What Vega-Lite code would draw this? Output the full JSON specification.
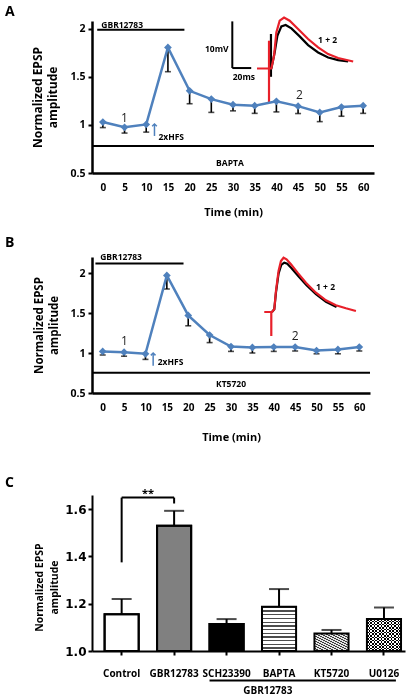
{
 "$schema":"https://vega.github.io/schema/vega-lite/v6.json",
 "padding":{"left":5,"top":5,"right":2,"bottom":2},
 "spacing":19,
 "config":{
  "font":"Open Sans",
  "view":{"stroke":null},
  "axis":{"domainColor":"black","tickColor":"black","labelColor":"black","titleColor":"black","grid":false,"labelFont":"Open Sans","titleFont":"Open Sans","labelFontWeight":"bold","titleFontWeight":"bold"},
  "title":{"font":"Open Sans","fontWeight":"bold","fontSize":14,"color":"black","anchor":"start","frame":"group"},
  "text":{"font":"Open Sans","color":"black"}
 },
 "datasets":{
  "a_series":[
   {"t":0,"mean":1.03,"lower":0.972},{"t":5,"mean":0.975,"lower":0.915},{"t":10,"mean":1.005,"lower":0.925},
   {"t":15,"mean":1.805,"lower":1.553},{"t":20,"mean":1.354,"lower":1.22},{"t":25,"mean":1.268,"lower":1.13},
   {"t":30,"mean":1.21,"lower":1.146},{"t":35,"mean":1.2,"lower":1.12},{"t":40,"mean":1.245,"lower":1.135},
   {"t":45,"mean":1.195,"lower":1.118},{"t":50,"mean":1.13,"lower":1.034},{"t":55,"mean":1.185,"lower":1.09},
   {"t":60,"mean":1.2,"lower":1.12}
  ],
  "a_rules":[
   {"t":-1.3,"t2":18.8,"v":1.99,"v2":1.99},
   {"t":-2.5,"t2":62.5,"v":0.78,"v2":0.78},
   {"t":29.84,"t2":29.84,"v":2.076,"v2":1.591},
   {"t":29.84,"t2":34.2,"v":1.591,"v2":1.591}
  ],
  "a_arrow":[{"t":11.9,"v":0.885,"v2":1.01}],
  "a_text":[
   {"t":4.45,"v":2.04,"label":"GBR12783"},
   {"t":15.76,"v":0.875,"label":"2xHFS"},
   {"t":26.26,"v":1.789,"label":"10mV"},
   {"t":32.5,"v":1.503,"label":"20ms"},
   {"t":51.8,"v":1.882,"label":"1 + 2"},
   {"t":29.3,"v":0.607,"label":"BAPTA"}
  ],
  "a_nums":[{"t":5.0,"v":1.073,"label":"1"},{"t":45.3,"v":1.3125,"label":"2"}],
  "a_traces":[
   {"trace":"1","seg":"a","i":0,"t":38.75,"v":1.945},
   {"trace":"1","seg":"a","i":1,"t":38.75,"v":1.5},
   {"trace":"1","seg":"b","i":0,"t":38.84,"v":1.586},
   {"trace":"1","seg":"b","i":1,"t":39.6,"v":1.753},
   {"trace":"1","seg":"b","i":2,"t":40.23,"v":1.927},
   {"trace":"1","seg":"b","i":3,"t":41.15,"v":2.024},
   {"trace":"1","seg":"b","i":4,"t":42.14,"v":2.039},
   {"trace":"1","seg":"b","i":5,"t":43.46,"v":2.003},
   {"trace":"1","seg":"b","i":6,"t":45.37,"v":1.92},
   {"trace":"1","seg":"b","i":7,"t":47.31,"v":1.83},
   {"trace":"1","seg":"b","i":8,"t":49.62,"v":1.753},
   {"trace":"1","seg":"b","i":9,"t":51.93,"v":1.701},
   {"trace":"1","seg":"b","i":10,"t":54.23,"v":1.674},
   {"trace":"1","seg":"b","i":11,"t":56.54,"v":1.659},
   {"trace":"2","seg":"a","i":0,"t":38.3,"v":1.875},
   {"trace":"2","seg":"a","i":1,"t":38.3,"v":1.232},
   {"trace":"2","seg":"b","i":0,"t":35.54,"v":1.586},
   {"trace":"2","seg":"b","i":1,"t":38.84,"v":1.586},
   {"trace":"2","seg":"b","i":2,"t":39.46,"v":1.719},
   {"trace":"2","seg":"b","i":3,"t":39.99,"v":1.961},
   {"trace":"2","seg":"b","i":4,"t":40.76,"v":2.083},
   {"trace":"2","seg":"b","i":5,"t":41.77,"v":2.115},
   {"trace":"2","seg":"b","i":6,"t":43.06,"v":2.083},
   {"trace":"2","seg":"b","i":7,"t":45.0,"v":1.997},
   {"trace":"2","seg":"b","i":8,"t":47.31,"v":1.893},
   {"trace":"2","seg":"b","i":9,"t":49.62,"v":1.805},
   {"trace":"2","seg":"b","i":10,"t":51.93,"v":1.736},
   {"trace":"2","seg":"b","i":11,"t":54.23,"v":1.695},
   {"trace":"2","seg":"b","i":12,"t":57.7,"v":1.659}
  ],
  "b_series":[
   {"t":0,"mean":1.02,"lower":0.975},{"t":5,"mean":1.01,"lower":0.96},{"t":10,"mean":0.99,"lower":0.92},
   {"t":15,"mean":1.97,"lower":1.8},{"t":20,"mean":1.47,"lower":1.34},{"t":25,"mean":1.225,"lower":1.13},
   {"t":30,"mean":1.08,"lower":1.02},{"t":35,"mean":1.07,"lower":1.0},{"t":40,"mean":1.075,"lower":1.02},
   {"t":45,"mean":1.075,"lower":1.025},{"t":50,"mean":1.03,"lower":0.99},{"t":55,"mean":1.045,"lower":0.99},
   {"t":60,"mean":1.075,"lower":1.025}
  ],
  "b_rules":[
   {"t":-1.7,"t2":18.9,"v":2.12,"v2":2.12},
   {"t":-2.5,"t2":62.5,"v":0.754,"v2":0.754}
  ],
  "b_arrow":[{"t":11.8,"v":0.84,"v2":1.0}],
  "b_text":[
   {"t":4.3,"v":2.2,"label":"GBR12783"},
   {"t":15.86,"v":0.8875,"label":"2xHFS"},
   {"t":30.0,"v":0.616,"label":"KT5720"},
   {"t":52.1,"v":1.825,"label":"1 + 2"}
  ],
  "b_nums":[{"t":5.07,"v":1.15,"label":"1"},{"t":45.0,"v":1.2125,"label":"2"}],
  "b_traces":[
   {"trace":"1","seg":"b","i":0,"t":39.58,"v":1.5125},
   {"trace":"1","seg":"b","i":1,"t":40.12,"v":1.546},
   {"trace":"1","seg":"b","i":2,"t":40.51,"v":1.754},
   {"trace":"1","seg":"b","i":3,"t":41.12,"v":1.991},
   {"trace":"1","seg":"b","i":4,"t":41.75,"v":2.1},
   {"trace":"1","seg":"b","i":5,"t":42.45,"v":2.129},
   {"trace":"1","seg":"b","i":6,"t":43.15,"v":2.116},
   {"trace":"1","seg":"b","i":7,"t":44.16,"v":2.059},
   {"trace":"1","seg":"b","i":8,"t":45.72,"v":1.9625},
   {"trace":"1","seg":"b","i":9,"t":47.66,"v":1.846},
   {"trace":"1","seg":"b","i":10,"t":49.86,"v":1.734},
   {"trace":"1","seg":"b","i":11,"t":52.2,"v":1.641},
   {"trace":"1","seg":"b","i":12,"t":54.67,"v":1.575},
   {"trace":"2","seg":"a","i":0,"t":39.42,"v":1.5125},
   {"trace":"2","seg":"a","i":1,"t":39.42,"v":1.2125},
   {"trace":"2","seg":"b","i":0,"t":37.78,"v":1.5125},
   {"trace":"2","seg":"b","i":1,"t":39.58,"v":1.5125},
   {"trace":"2","seg":"b","i":2,"t":40.12,"v":1.546},
   {"trace":"2","seg":"b","i":3,"t":40.51,"v":1.775},
   {"trace":"2","seg":"b","i":4,"t":41.12,"v":2.025},
   {"trace":"2","seg":"b","i":5,"t":41.68,"v":2.15},
   {"trace":"2","seg":"b","i":6,"t":42.29,"v":2.191},
   {"trace":"2","seg":"b","i":7,"t":42.99,"v":2.171},
   {"trace":"2","seg":"b","i":8,"t":44.02,"v":2.109},
   {"trace":"2","seg":"b","i":9,"t":45.56,"v":2.004},
   {"trace":"2","seg":"b","i":10,"t":47.52,"v":1.879},
   {"trace":"2","seg":"b","i":11,"t":49.86,"v":1.754},
   {"trace":"2","seg":"b","i":12,"t":52.2,"v":1.659},
   {"trace":"2","seg":"b","i":13,"t":54.53,"v":1.596},
   {"trace":"2","seg":"b","i":14,"t":56.87,"v":1.559},
   {"trace":"2","seg":"b","i":15,"t":59.21,"v":1.525}
  ],
  "c_bars":[
   {"g":"Control","mean":1.156,"upper":1.22},
   {"g":"GBR12783","mean":1.53,"upper":1.593},
   {"g":"SCH23390","mean":1.114,"upper":1.135},
   {"g":"BAPTA","mean":1.187,"upper":1.262},
   {"g":"KT5720","mean":1.074,"upper":1.089},
   {"g":"U0126","mean":1.135,"upper":1.184}
  ],
  "c_bracket":[
   {"g":"Control","g2":"Control","y":1.375,"y2":1.649},
   {"g":"Control","g2":"GBR12783","y":1.649,"y2":1.649},
   {"g":"GBR12783","g2":"GBR12783","y":1.649,"y2":1.624}
  ],
  "c_group":[{"g":"SCH23390","g2":"U0126","y":0.875}],
  "c_star":[{"g":"Control","y":1.665,"label":"**"}],
  "c_grouplabel":[{"g":"BAPTA","y":0.832,"label":"GBR12783"}]
 },
 "vconcat":[
  {
   "title":{"text":"A","dx":-87,"offset":-6},
   "width":282,"height":152,
   "layer":[
    {"data":{"name":"a_rules"},"mark":{"type":"rule","strokeWidth":2,"color":"black"},
     "encoding":{
      "x":{"field":"t","type":"quantitative","scale":{"domain":[-2.5,62.5],"nice":false,"zero":false},
           "axis":{"values":[0,5,10,15,20,25,30,35,40,45,50,55,60],"tickCount":20,"labelOverlap":false,"labelSeparation":0,"ticks":false,"labelPadding":9,"labelFontSize":10,"title":"Time (min)","titleFontSize":11,"titlePadding":14,"domainWidth":2.5}},
      "x2":{"field":"t2"},
      "y":{"field":"v","type":"quantitative","scale":{"domain":[0.5,2.08],"nice":false,"zero":false},
           "axis":{"values":[0.5,1,1.5,2],"tickCount":10,"format":"~g","tickSize":4,"tickWidth":2,"labelPadding":3,"labelFontSize":10.5,"title":["Normalized EPSP","amplitude"],"titleFontSize":12,"titleLineHeight":15,"titlePadding":10,"domainWidth":2.5}},
      "y2":{"field":"v2"}}},
    {"data":{"name":"a_traces"},"transform":[{"filter":"datum.trace == '1'"}],
     "mark":{"type":"line","color":"black","strokeWidth":2.2},
     "encoding":{
      "x":{"field":"t","type":"quantitative"},
      "y":{"field":"v","type":"quantitative"},
      "detail":{"field":"seg"},"order":{"field":"i"}}},
    {"data":{"name":"a_traces"},"transform":[{"filter":"datum.trace == '2'"}],
     "mark":{"type":"line","color":"#e8202a","strokeWidth":2.2},
     "encoding":{
      "x":{"field":"t","type":"quantitative"},
      "y":{"field":"v","type":"quantitative"},
      "detail":{"field":"seg"},"order":{"field":"i"}}},
    {"data":{"name":"a_series"},"mark":{"type":"rule","color":"black","strokeWidth":1.6},
     "encoding":{
      "x":{"field":"t","type":"quantitative"},
      "y":{"field":"mean","type":"quantitative"},
      "y2":{"field":"lower"}}},
    {"data":{"name":"a_series"},"mark":{"type":"tick","color":"black","orient":"horizontal","size":6,"thickness":1.6},
     "encoding":{
      "x":{"field":"t","type":"quantitative"},
      "y":{"field":"lower","type":"quantitative"}}},
    {"data":{"name":"a_series"},"mark":{"type":"line","color":"#4F81BD","strokeWidth":2.5,"point":{"filled":true,"shape":"diamond","size":60,"color":"#4F81BD"}},
     "encoding":{
      "x":{"field":"t","type":"quantitative"},
      "y":{"field":"mean","type":"quantitative"}}},
    {"data":{"name":"a_arrow"},"mark":{"type":"rule","color":"#4F81BD","strokeWidth":1.5},
     "encoding":{
      "x":{"field":"t","type":"quantitative"},
      "y":{"field":"v","type":"quantitative"},
      "y2":{"field":"v2"}}},
    {"data":{"name":"a_arrow"},"mark":{"type":"point","shape":"M-1,1L0,0L1,1","filled":false,"size":22,"color":"#4F81BD","strokeWidth":1.5,"opacity":1},
     "encoding":{
      "x":{"field":"t","type":"quantitative"},
      "y":{"field":"v2","type":"quantitative"}}},
    {"data":{"name":"a_text"},"mark":{"type":"text","fontSize":8.5,"fontWeight":"bold","align":"center","baseline":"middle"},
     "encoding":{
      "x":{"field":"t","type":"quantitative"},
      "y":{"field":"v","type":"quantitative"},
      "text":{"field":"label"}}},
    {"data":{"name":"a_nums"},"mark":{"type":"text","fontSize":12,"align":"center","baseline":"middle","color":"#222"},
     "encoding":{
      "x":{"field":"t","type":"quantitative"},
      "y":{"field":"v","type":"quantitative"},
      "text":{"field":"label"}}}
   ]
  },
  {
   "title":{"text":"B","dx":-87,"offset":3},
   "width":278,"height":136,
   "layer":[
    {"data":{"name":"b_rules"},"mark":{"type":"rule","strokeWidth":2,"color":"black"},
     "encoding":{
      "x":{"field":"t","type":"quantitative","scale":{"domain":[-2.5,62.5],"nice":false,"zero":false},
           "axis":{"values":[0,5,10,15,20,25,30,35,40,45,50,55,60],"tickCount":20,"labelOverlap":false,"labelSeparation":0,"ticks":false,"labelPadding":9,"labelFontSize":10,"title":["Time (min)"," "],"titleLineHeight":14,"titleFontSize":11,"titlePadding":19,"domainWidth":2.5}},
      "x2":{"field":"t2"},
      "y":{"field":"v","type":"quantitative","scale":{"domain":[0.5,2.2],"nice":false,"zero":false},
           "axis":{"values":[0.5,1,1.5,2],"tickCount":10,"format":"~g","tickSize":4,"tickWidth":2,"labelPadding":3,"labelFontSize":10.5,"title":["Normalized EPSP","amplitude"],"titleFontSize":11.5,"titleLineHeight":15,"titlePadding":10,"domainWidth":2.5}},
      "y2":{"field":"v2"}}},
    {"data":{"name":"b_traces"},"transform":[{"filter":"datum.trace == '1'"}],
     "mark":{"type":"line","color":"black","strokeWidth":2.2},
     "encoding":{
      "x":{"field":"t","type":"quantitative"},
      "y":{"field":"v","type":"quantitative"},
      "detail":{"field":"seg"},"order":{"field":"i"}}},
    {"data":{"name":"b_traces"},"transform":[{"filter":"datum.trace == '2'"}],
     "mark":{"type":"line","color":"#e8202a","strokeWidth":2.2},
     "encoding":{
      "x":{"field":"t","type":"quantitative"},
      "y":{"field":"v","type":"quantitative"},
      "detail":{"field":"seg"},"order":{"field":"i"}}},
    {"data":{"name":"b_series"},"mark":{"type":"rule","color":"black","strokeWidth":1.6},
     "encoding":{
      "x":{"field":"t","type":"quantitative"},
      "y":{"field":"mean","type":"quantitative"},
      "y2":{"field":"lower"}}},
    {"data":{"name":"b_series"},"mark":{"type":"tick","color":"black","orient":"horizontal","size":6,"thickness":1.6},
     "encoding":{
      "x":{"field":"t","type":"quantitative"},
      "y":{"field":"lower","type":"quantitative"}}},
    {"data":{"name":"b_series"},"mark":{"type":"line","color":"#4F81BD","strokeWidth":2.5,"point":{"filled":true,"shape":"diamond","size":60,"color":"#4F81BD"}},
     "encoding":{
      "x":{"field":"t","type":"quantitative"},
      "y":{"field":"mean","type":"quantitative"}}},
    {"data":{"name":"b_arrow"},"mark":{"type":"rule","color":"#4F81BD","strokeWidth":1.5},
     "encoding":{
      "x":{"field":"t","type":"quantitative"},
      "y":{"field":"v","type":"quantitative"},
      "y2":{"field":"v2"}}},
    {"data":{"name":"b_arrow"},"mark":{"type":"point","shape":"M-1,1L0,0L1,1","filled":false,"size":22,"color":"#4F81BD","strokeWidth":1.5,"opacity":1},
     "encoding":{
      "x":{"field":"t","type":"quantitative"},
      "y":{"field":"v2","type":"quantitative"}}},
    {"data":{"name":"b_text"},"mark":{"type":"text","fontSize":8.5,"fontWeight":"bold","align":"center","baseline":"middle"},
     "encoding":{
      "x":{"field":"t","type":"quantitative"},
      "y":{"field":"v","type":"quantitative"},
      "text":{"field":"label"}}},
    {"data":{"name":"b_nums"},"mark":{"type":"text","fontSize":12,"align":"center","baseline":"middle","color":"#222"},
     "encoding":{
      "x":{"field":"t","type":"quantitative"},
      "y":{"field":"v","type":"quantitative"},
      "text":{"field":"label"}}}
   ]
  },
  {
   "title":{"text":"C","dx":-87,"offset":-2},
   "width":313,"height":156,
   "layer":[
    {"data":{"name":"c_bars"},"mark":{"type":"rule","color":"black","strokeWidth":2},
     "encoding":{
      "x":{"field":"g","type":"nominal","scale":{"domain":["Control","GBR12783","SCH23390","BAPTA","KT5720","U0126"],"paddingInner":0.35,"paddingOuter":0.158,"align":0.76},
           "axis":{"title":null,"labelAngle":0,"tickSize":4,"tickWidth":2,"labelPadding":13,"labelFontSize":10,"domainWidth":2}},
      "y":{"field":"mean","type":"quantitative","scale":{"domain":[1,1.66],"nice":false,"zero":false},
           "axis":{"values":[1,1.2,1.4,1.6],"tickCount":10,"format":".1f","tickSize":4,"tickWidth":2,"labelPadding":2,"labelFont":"DejaVu Sans","labelFontSize":12,"labelFontWeight":"bold","title":["Normalized EPSP","amplitude"],"titleFontSize":10.5,"titleLineHeight":15,"titlePadding":5,"titleY":92,"domainWidth":2}},
      "y2":{"field":"upper"}}},
    {"data":{"name":"c_bars"},"mark":{"type":"tick","color":"black","size":20,"thickness":2},
     "encoding":{
      "x":{"field":"g","type":"nominal"},
      "y":{"field":"upper","type":"quantitative"}}},
    {"data":{"name":"c_bars"},"transform":[{"filter":"indexof(['Control','GBR12783','SCH23390'], datum.g) >= 0"}],
     "mark":{"type":"bar","stroke":"black","strokeWidth":2},
     "encoding":{
      "x":{"field":"g","type":"nominal"},
      "y":{"field":"mean","type":"quantitative"},
      "y2":{"datum":1},
      "color":{"field":"g","type":"nominal","scale":{"domain":["Control","GBR12783","SCH23390"],"range":["#ffffff","#808080","#000000"]},"legend":null}}},
    {"data":{"name":"c_bars"},"transform":[{"filter":"datum.g == 'BAPTA'"}],
     "mark":{"type":"bar","fill":{"gradient":"linear","x1":0,"y1":0,"x2":0,"y2":1,"stops":[
       {"offset":0,"color":"#4d4d4d"},{"offset":0.029,"color":"#4d4d4d"},{"offset":0.029,"color":"#ffffff"},{"offset":0.083,"color":"#ffffff"},
       {"offset":0.083,"color":"#4d4d4d"},{"offset":0.112,"color":"#4d4d4d"},{"offset":0.112,"color":"#ffffff"},{"offset":0.167,"color":"#ffffff"},
       {"offset":0.167,"color":"#4d4d4d"},{"offset":0.196,"color":"#4d4d4d"},{"offset":0.196,"color":"#ffffff"},{"offset":0.25,"color":"#ffffff"},
       {"offset":0.25,"color":"#4d4d4d"},{"offset":0.279,"color":"#4d4d4d"},{"offset":0.279,"color":"#ffffff"},{"offset":0.333,"color":"#ffffff"},
       {"offset":0.333,"color":"#4d4d4d"},{"offset":0.362,"color":"#4d4d4d"},{"offset":0.362,"color":"#ffffff"},{"offset":0.417,"color":"#ffffff"},
       {"offset":0.417,"color":"#4d4d4d"},{"offset":0.446,"color":"#4d4d4d"},{"offset":0.446,"color":"#ffffff"},{"offset":0.5,"color":"#ffffff"},
       {"offset":0.5,"color":"#4d4d4d"},{"offset":0.529,"color":"#4d4d4d"},{"offset":0.529,"color":"#ffffff"},{"offset":0.583,"color":"#ffffff"},
       {"offset":0.583,"color":"#4d4d4d"},{"offset":0.612,"color":"#4d4d4d"},{"offset":0.612,"color":"#ffffff"},{"offset":0.667,"color":"#ffffff"},
       {"offset":0.667,"color":"#4d4d4d"},{"offset":0.696,"color":"#4d4d4d"},{"offset":0.696,"color":"#ffffff"},{"offset":0.75,"color":"#ffffff"},
       {"offset":0.75,"color":"#4d4d4d"},{"offset":0.779,"color":"#4d4d4d"},{"offset":0.779,"color":"#ffffff"},{"offset":0.833,"color":"#ffffff"},
       {"offset":0.833,"color":"#4d4d4d"},{"offset":0.862,"color":"#4d4d4d"},{"offset":0.862,"color":"#ffffff"},{"offset":0.917,"color":"#ffffff"},
       {"offset":0.917,"color":"#4d4d4d"},{"offset":0.946,"color":"#4d4d4d"},{"offset":0.946,"color":"#ffffff"},{"offset":1,"color":"#ffffff"}]}},
     "encoding":{
      "x":{"field":"g","type":"nominal"},
      "y":{"field":"mean","type":"quantitative"},
      "y2":{"datum":1}}},
    {"data":{"name":"c_bars"},"transform":[{"filter":"datum.g == 'KT5720'"}],
     "mark":{"type":"bar","fill":{"gradient":"linear","x1":0,"y1":1,"x2":1,"y2":0,"stops":[
       {"offset":0,"color":"#3a3a3a"},{"offset":0.0286,"color":"#3a3a3a"},{"offset":0.0286,"color":"#e6e6e6"},{"offset":0.0714,"color":"#e6e6e6"},
       {"offset":0.0714,"color":"#3a3a3a"},{"offset":0.1,"color":"#3a3a3a"},{"offset":0.1,"color":"#e6e6e6"},{"offset":0.1429,"color":"#e6e6e6"},
       {"offset":0.1429,"color":"#3a3a3a"},{"offset":0.1715,"color":"#3a3a3a"},{"offset":0.1715,"color":"#e6e6e6"},{"offset":0.2143,"color":"#e6e6e6"},
       {"offset":0.2143,"color":"#3a3a3a"},{"offset":0.2429,"color":"#3a3a3a"},{"offset":0.2429,"color":"#e6e6e6"},{"offset":0.2857,"color":"#e6e6e6"},
       {"offset":0.2857,"color":"#3a3a3a"},{"offset":0.3143,"color":"#3a3a3a"},{"offset":0.3143,"color":"#e6e6e6"},{"offset":0.3571,"color":"#e6e6e6"},
       {"offset":0.3571,"color":"#3a3a3a"},{"offset":0.3857,"color":"#3a3a3a"},{"offset":0.3857,"color":"#e6e6e6"},{"offset":0.4286,"color":"#e6e6e6"},
       {"offset":0.4286,"color":"#3a3a3a"},{"offset":0.4572,"color":"#3a3a3a"},{"offset":0.4572,"color":"#e6e6e6"},{"offset":0.5,"color":"#e6e6e6"},
       {"offset":0.5,"color":"#3a3a3a"},{"offset":0.5286,"color":"#3a3a3a"},{"offset":0.5286,"color":"#e6e6e6"},{"offset":0.5714,"color":"#e6e6e6"},
       {"offset":0.5714,"color":"#3a3a3a"},{"offset":0.6,"color":"#3a3a3a"},{"offset":0.6,"color":"#e6e6e6"},{"offset":0.6429,"color":"#e6e6e6"},
       {"offset":0.6429,"color":"#3a3a3a"},{"offset":0.6715,"color":"#3a3a3a"},{"offset":0.6715,"color":"#e6e6e6"},{"offset":0.7143,"color":"#e6e6e6"},
       {"offset":0.7143,"color":"#3a3a3a"},{"offset":0.7429,"color":"#3a3a3a"},{"offset":0.7429,"color":"#e6e6e6"},{"offset":0.7857,"color":"#e6e6e6"},
       {"offset":0.7857,"color":"#3a3a3a"},{"offset":0.8143,"color":"#3a3a3a"},{"offset":0.8143,"color":"#e6e6e6"},{"offset":0.8571,"color":"#e6e6e6"},
       {"offset":0.8571,"color":"#3a3a3a"},{"offset":0.8857,"color":"#3a3a3a"},{"offset":0.8857,"color":"#e6e6e6"},{"offset":0.9286,"color":"#e6e6e6"},
       {"offset":0.9286,"color":"#3a3a3a"},{"offset":0.9572,"color":"#3a3a3a"},{"offset":0.9572,"color":"#e6e6e6"},{"offset":1,"color":"#e6e6e6"}]}},
     "encoding":{
      "x":{"field":"g","type":"nominal"},
      "y":{"field":"mean","type":"quantitative"},
      "y2":{"datum":1}}},
    {"data":{"name":"c_bars"},"transform":[{"filter":"datum.g == 'U0126'"}],
     "mark":{"type":"bar","fill":{"gradient":"linear","x1":0,"y1":0,"x2":1,"y2":0,"stops":[
       {"offset":0,"color":"#000000"},{"offset":0.05,"color":"#000000"},{"offset":0.05,"color":"#ffffff"},{"offset":0.1,"color":"#ffffff"},
       {"offset":0.1,"color":"#000000"},{"offset":0.15,"color":"#000000"},{"offset":0.15,"color":"#ffffff"},{"offset":0.2,"color":"#ffffff"},
       {"offset":0.2,"color":"#000000"},{"offset":0.25,"color":"#000000"},{"offset":0.25,"color":"#ffffff"},{"offset":0.3,"color":"#ffffff"},
       {"offset":0.3,"color":"#000000"},{"offset":0.35,"color":"#000000"},{"offset":0.35,"color":"#ffffff"},{"offset":0.4,"color":"#ffffff"},
       {"offset":0.4,"color":"#000000"},{"offset":0.45,"color":"#000000"},{"offset":0.45,"color":"#ffffff"},{"offset":0.5,"color":"#ffffff"},
       {"offset":0.5,"color":"#000000"},{"offset":0.55,"color":"#000000"},{"offset":0.55,"color":"#ffffff"},{"offset":0.6,"color":"#ffffff"},
       {"offset":0.6,"color":"#000000"},{"offset":0.65,"color":"#000000"},{"offset":0.65,"color":"#ffffff"},{"offset":0.7,"color":"#ffffff"},
       {"offset":0.7,"color":"#000000"},{"offset":0.75,"color":"#000000"},{"offset":0.75,"color":"#ffffff"},{"offset":0.8,"color":"#ffffff"},
       {"offset":0.8,"color":"#000000"},{"offset":0.85,"color":"#000000"},{"offset":0.85,"color":"#ffffff"},{"offset":0.9,"color":"#ffffff"},
       {"offset":0.9,"color":"#000000"},{"offset":0.95,"color":"#000000"},{"offset":0.95,"color":"#ffffff"},{"offset":1,"color":"#ffffff"}]}},
     "encoding":{
      "x":{"field":"g","type":"nominal"},
      "y":{"field":"mean","type":"quantitative"},
      "y2":{"datum":1}}},
    {"data":{"name":"c_bars"},"transform":[{"filter":"datum.g == 'U0126'"}],
     "mark":{"type":"bar","blend":"difference","fill":{"gradient":"linear","x1":0,"y1":0,"x2":0,"y2":1,"stops":[
       {"offset":0,"color":"#000000"},{"offset":0.05,"color":"#000000"},{"offset":0.05,"color":"#ffffff"},{"offset":0.1,"color":"#ffffff"},
       {"offset":0.1,"color":"#000000"},{"offset":0.15,"color":"#000000"},{"offset":0.15,"color":"#ffffff"},{"offset":0.2,"color":"#ffffff"},
       {"offset":0.2,"color":"#000000"},{"offset":0.25,"color":"#000000"},{"offset":0.25,"color":"#ffffff"},{"offset":0.3,"color":"#ffffff"},
       {"offset":0.3,"color":"#000000"},{"offset":0.35,"color":"#000000"},{"offset":0.35,"color":"#ffffff"},{"offset":0.4,"color":"#ffffff"},
       {"offset":0.4,"color":"#000000"},{"offset":0.45,"color":"#000000"},{"offset":0.45,"color":"#ffffff"},{"offset":0.5,"color":"#ffffff"},
       {"offset":0.5,"color":"#000000"},{"offset":0.55,"color":"#000000"},{"offset":0.55,"color":"#ffffff"},{"offset":0.6,"color":"#ffffff"},
       {"offset":0.6,"color":"#000000"},{"offset":0.65,"color":"#000000"},{"offset":0.65,"color":"#ffffff"},{"offset":0.7,"color":"#ffffff"},
       {"offset":0.7,"color":"#000000"},{"offset":0.75,"color":"#000000"},{"offset":0.75,"color":"#ffffff"},{"offset":0.8,"color":"#ffffff"},
       {"offset":0.8,"color":"#000000"},{"offset":0.85,"color":"#000000"},{"offset":0.85,"color":"#ffffff"},{"offset":0.9,"color":"#ffffff"},
       {"offset":0.9,"color":"#000000"},{"offset":0.95,"color":"#000000"},{"offset":0.95,"color":"#ffffff"},{"offset":1,"color":"#ffffff"}]}},
     "encoding":{
      "x":{"field":"g","type":"nominal"},
      "y":{"field":"mean","type":"quantitative"},
      "y2":{"datum":1}}},
    {"data":{"name":"c_bars"},"mark":{"type":"bar","fill":"transparent","stroke":"black","strokeWidth":2},
     "encoding":{
      "x":{"field":"g","type":"nominal"},
      "y":{"field":"mean","type":"quantitative"},
      "y2":{"datum":1}}},
    {"data":{"name":"c_bracket"},"mark":{"type":"rule","color":"black","strokeWidth":2},
     "encoding":{
      "x":{"field":"g","type":"nominal","bandPosition":0.5},
      "x2":{"field":"g2","bandPosition":0.5},
      "y":{"field":"y","type":"quantitative"},
      "y2":{"field":"y2"}}},
    {"data":{"name":"c_group"},"mark":{"type":"rule","color":"black","strokeWidth":2},
     "encoding":{
      "x":{"field":"g","type":"nominal","bandPosition":0},
      "x2":{"field":"g2","bandPosition":0.85},
      "y":{"field":"y","type":"quantitative"}}},
    {"data":{"name":"c_star"},"mark":{"type":"text","fontSize":11,"fontWeight":"bold","align":"center","baseline":"middle"},
     "encoding":{
      "x":{"field":"g","type":"nominal","bandPosition":1.27},
      "y":{"field":"y","type":"quantitative"},
      "text":{"field":"label"}}},
    {"data":{"name":"c_grouplabel"},"mark":{"type":"text","fontSize":10,"fontWeight":"bold","align":"center","baseline":"middle"},
     "encoding":{
      "x":{"field":"g","type":"nominal","bandPosition":0.17},
      "y":{"field":"y","type":"quantitative"},
      "text":{"field":"label"}}}
   ]
  }
 ]
}
